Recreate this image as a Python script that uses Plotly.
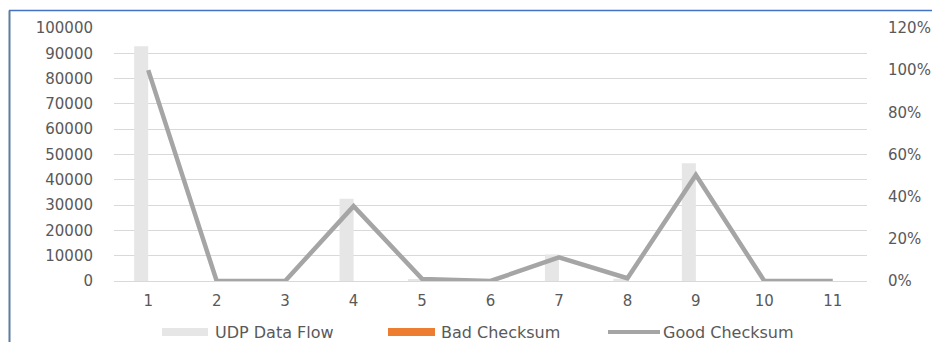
import plotly.graph_objects as go

categories = ["1", "2", "3", "4", "5", "6", "7", "8", "9", "10", "11"]
udp_data_flow = [92800, 0, 0, 32500, 600, 0, 10500, 900, 46500, 0, 0]
bad_checksum = [0, 0, 0, 0, 0, 0, 0, 0, 0, 0, 0]
good_checksum = [1.00, 0.0, 0.0, 0.355, 0.01, 0.0, 0.112, 0.013, 0.503, 0.0, 0.0]
series_names = ["UDP Data Flow", "Bad Checksum", "Good Checksum"]

GRID = "#d9d9d9"
TXT = "#595959"
FONT = "DejaVu Sans"
FS = 15

fig = go.Figure()
fig.add_trace(go.Bar(x=categories, y=udp_data_flow, name=series_names[0],
                     marker=dict(color="#e7e6e6", line=dict(width=0))))
fig.add_trace(go.Bar(x=categories, y=bad_checksum, name=series_names[1],
                     marker=dict(color="#ed7d31", line=dict(width=0))))
fig.add_trace(go.Scatter(x=categories, y=good_checksum, name=series_names[2], yaxis="y2",
                         mode="lines", line=dict(color="#a5a5a5", width=4.5)))

# page offset of the figure (body margin)
OFF = 8
W, H = 940 - 2 * OFF, 350 - 2 * OFF
# plot area in page pixels
PX0, PX1, PY0, PY1 = 114, 867, 28, 281
L, R = PX0 - OFF, W - (PX1 - OFF)
T, B = PY0 - OFF, H - (PY1 - OFF)
pw, ph = PX1 - PX0, PY1 - PY0


def px(x):
    return (x - PX0) / pw


def py(y):
    return (PY1 - y) / ph


shapes = [
    dict(type="line", xref="paper", yref="paper", x0=px(9), x1=px(950), y0=py(10.5), y1=py(10.5),
         line=dict(color="#4472c4", width=1.5)),
    dict(type="line", xref="paper", yref="paper", x0=px(9.5), x1=px(9.5), y0=py(10.5), y1=py(360),
         line=dict(color="#5b7f9c", width=2)),
    dict(type="rect", xref="paper", yref="paper", x0=px(162), x1=px(208), y0=py(336), y1=py(328),
         fillcolor="#e7e6e6", line=dict(width=0)),
    dict(type="rect", xref="paper", yref="paper", x0=px(388), x1=px(435), y0=py(336), y1=py(328),
         fillcolor="#ed7d31", line=dict(width=0)),
    dict(type="line", xref="paper", yref="paper", x0=px(608), x1=px(660), y0=py(332), y1=py(332),
         line=dict(color="#a5a5a5", width=4)),
]
annotations = [
    dict(text=series_names[0], xref="paper", yref="paper", x=px(213), y=py(332), xanchor="left",
         yanchor="middle", showarrow=False, font=dict(family=FONT, size=FS + 1, color=TXT)),
    dict(text=series_names[1], xref="paper", yref="paper", x=px(439), y=py(332), xanchor="left",
         yanchor="middle", showarrow=False, font=dict(family=FONT, size=FS + 1, color=TXT)),
    dict(text=series_names[2], xref="paper", yref="paper", x=px(661), y=py(332), xanchor="left",
         yanchor="middle", showarrow=False, font=dict(family=FONT, size=FS + 1, color=TXT)),
]

fig.update_layout(
    width=W, height=H,
    margin=dict(l=L, r=R, t=T, b=B, pad=0),
    paper_bgcolor="white", plot_bgcolor="white",
    barmode="group", bargap=0.59, bargroupgap=0,
    showlegend=False,
    font=dict(family=FONT, size=FS, color=TXT),
    xaxis=dict(type="category", showgrid=False, showline=False, zeroline=False, ticks="",
               automargin=False,
               tickfont=dict(family=FONT, size=FS, color=TXT), ticklabelstandoff=9),
    yaxis=dict(range=[0, 100000], dtick=10000, showgrid=True, gridcolor=GRID, gridwidth=1,
               zeroline=True, zerolinecolor=GRID, zerolinewidth=1, showline=False, ticks="",
               automargin=False,
               tickformat="d", tickfont=dict(family=FONT, size=FS, color=TXT), ticklabelstandoff=20),
    yaxis2=dict(range=[0, 1.2], dtick=0.2, overlaying="y", side="right", showgrid=False,
                zeroline=False, showline=False, ticks="", tickformat=".0%", automargin=False,
                tickfont=dict(family=FONT, size=FS, color=TXT), ticklabelstandoff=20),
    shapes=shapes,
    annotations=annotations,
)

fig.write_html("out.html")
